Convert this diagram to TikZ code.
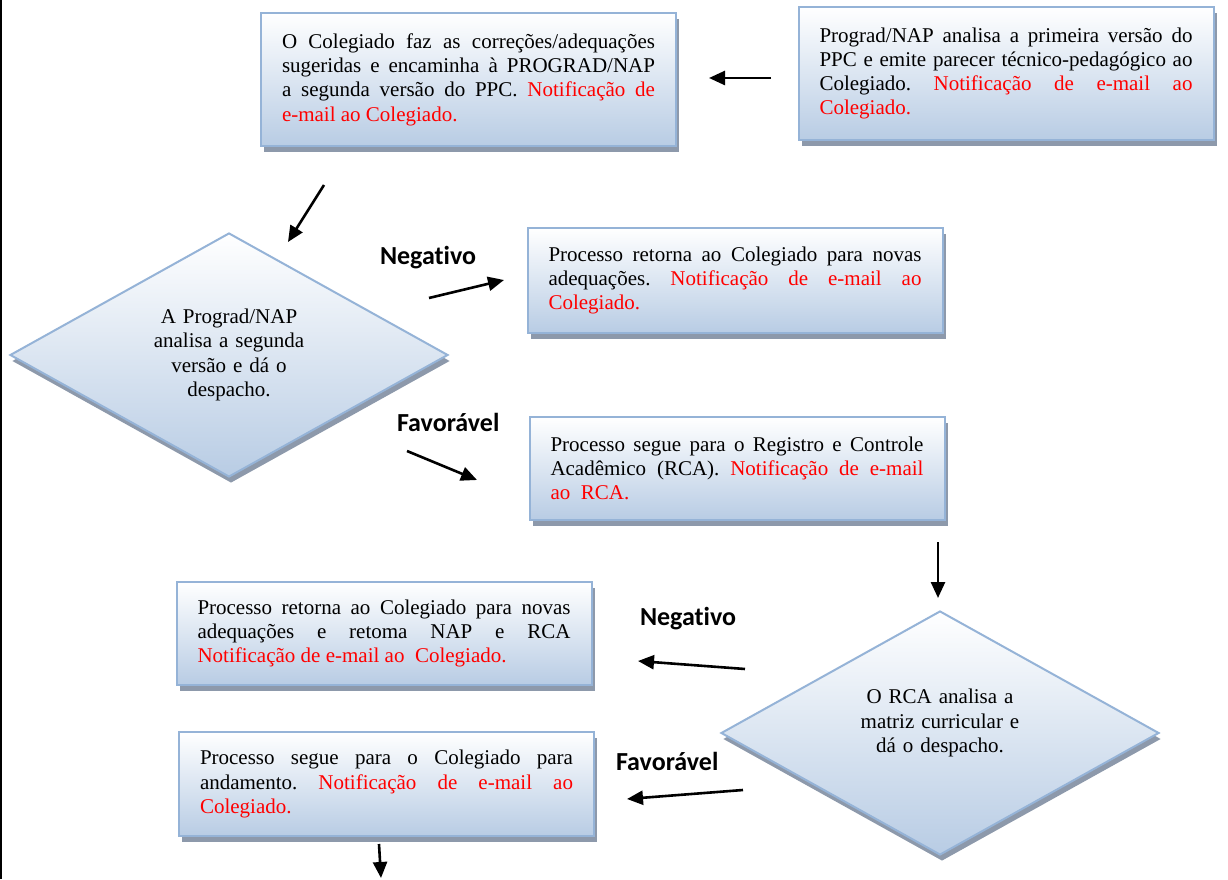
\documentclass[tikz,border=0pt]{standalone}
\usepackage{fontspec}
\setmainfont{Liberation Serif}
\newfontfamily\answerfont{Carlito}[Ligatures=NoCommon]
\usetikzlibrary{shapes.geometric,shadows,arrows.meta}
\setlength{\parindent}{0pt}
\begin{document}
\begin{tikzpicture}[x=1pt,y=1pt,
  stepbox/.style={draw=borderColor,line width=2pt,top color=white,bottom color=boxColor,
    general shadow={fill=shadowColor,shadow xshift=3pt,shadow yshift=-6pt},
    minimum width=415pt,text width=373pt,align=justify,inner sep=0pt,
    font=\fontsize{21}{24.3}\selectfont\frenchspacing},
  decision/.style={diamond,aspect=1.8,draw=borderColor,line width=2pt,top color=white,bottom color=boxColor,
    general shadow={fill=shadowColor,shadow xshift=2pt,shadow yshift=-6pt},
    minimum width=438pt,minimum height=244pt,inner sep=0pt},
  decisiontext/.style={text width=200pt,align=center,inner sep=0pt,
    font=\fontsize{21}{24.3}\selectfont},
  answer/.style={anchor=base west,inner sep=0pt,outer sep=0pt,
    font=\answerfont\bfseries\fontsize{26}{30}\selectfont},
  flow/.style={line width=2.6pt,-{Triangle[length=16pt,width=14pt]}}]
\definecolor{fillColor}{RGB}{255,255,255}
\definecolor{borderColor}{RGB}{149,179,215}
\definecolor{boxColor}{RGB}{184,204,228}
\definecolor{shadowColor}{RGB}{141,153,171}
\definecolor{notifColor}{RGB}{255,0,0}
\path[use as bounding box,fill=fillColor] (0,0) rectangle (1228,879);

\draw[line width=1.6pt] (0.8,0) -- (0.8,879);

\node[stepbox,minimum height=133pt] (analiseUm) at (1006,805.5) {Prograd/NAP analisa a primeira versão do\linebreak PPC e emite parecer técnico-pedagógico ao\linebreak Colegiado. \textcolor{notifColor}{Notificação de e-mail ao\linebreak Colegiado.}};

\node[stepbox,minimum height=133pt] (correcoes) at (468.5,799.5) {O Colegiado faz as correções/adequações\linebreak sugeridas e encaminha à PROGRAD/NAP\linebreak a segunda versão do PPC. \textcolor{notifColor}{Notificação de\linebreak e-mail ao Colegiado.}};

\node[decision] (despachoNap) at (229,524) {};

\node[decisiontext] (despachoNapTxt) at (despachoNap.center) {A Prograd/NAP\\ analisa a segunda\\ versão e dá o\\ despacho.};

\node[stepbox,minimum height=105pt] (retornoNap) at (735,598.5) {Processo retorna ao Colegiado para novas\linebreak adequações. \textcolor{notifColor}{Notificação de e-mail ao\linebreak Colegiado.}};

\node[stepbox,minimum height=103pt] (registro) at (737,410.5) {Processo segue para o Registro e Controle\linebreak Acadêmico (RCA). \textcolor{notifColor}{Notificação de e-mail\linebreak ao\ \ RCA.}};

\node[decision] (despachoRca) at (940,146) {};

\node[decisiontext] (despachoRcaTxt) at ([yshift=10pt]despachoRca.center) {O RCA analisa a\\ matriz curricular e\\ dá o despacho.};

\node[stepbox,minimum height=103pt] (retornoRca) at (384,245.5) {Processo retorna ao Colegiado para novas\linebreak adequações e retoma NAP e RCA\linebreak \textcolor{notifColor}{Notificação de e-mail ao\ \ Colegiado.}};

\node[stepbox,minimum height=104pt] (andamento) at (386.5,95) {Processo segue para o Colegiado para\linebreak andamento. \textcolor{notifColor}{Notificação de e-mail ao\linebreak Colegiado.}};

\node[answer] (negNap) at (380,614) {Negativo};

\node[answer] (favNap) at (397,447) {Favorável};

\node[answer] (negRca) at (640,254) {Negativo};

\node[answer] (favRca) at (616,109) {Favorável};

\coordinate (s1) at (771,801);
\coordinate (e1) at (709,801);
\coordinate (s2) at (324,694);
\coordinate (e2) at (288,637);
\coordinate (s3) at (429,581);
\coordinate (e3) at (504,599);
\coordinate (s4) at (407,428);
\coordinate (e4) at (477,399);
\coordinate (s5) at (938,337);
\coordinate (e5) at (938,281);
\coordinate (s6) at (745,210);
\coordinate (e6) at (638,218);
\coordinate (s7) at (743,89);
\coordinate (e7) at (627,80);
\coordinate (s8) at (379,35);
\coordinate (e8) at (381,1);

\foreach \i in {1,...,8}
  \draw[flow] (s\i) -- (e\i);
\end{tikzpicture}
\end{document}
